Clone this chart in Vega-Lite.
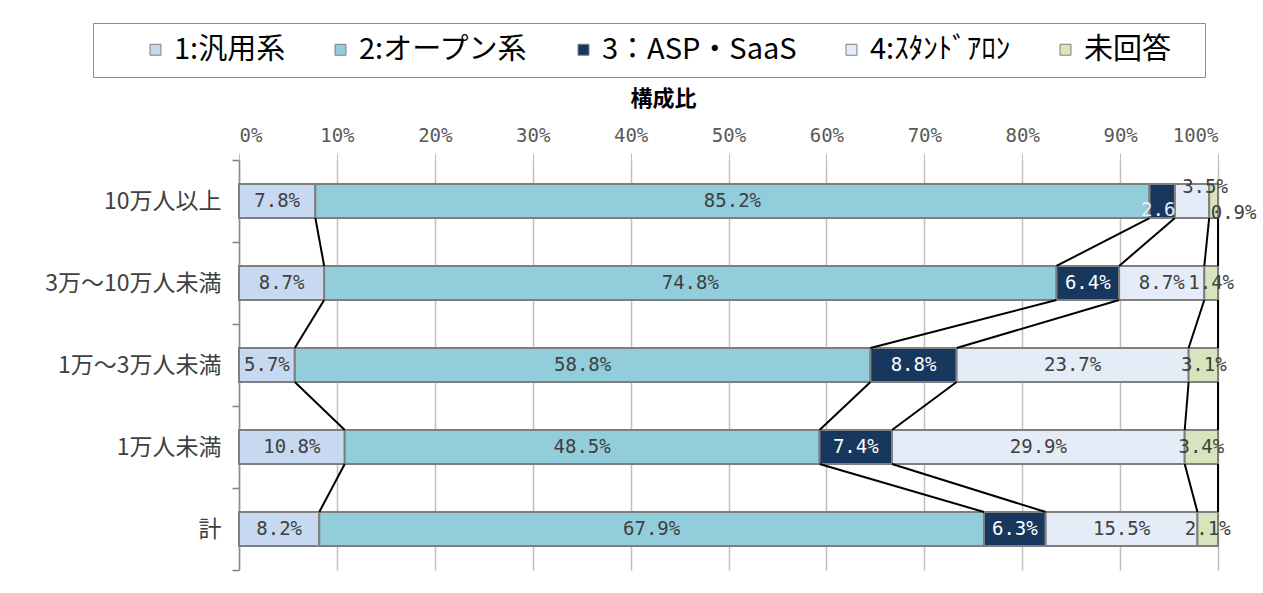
{
  "$schema": "https://vega.github.io/schema/vega-lite/v6.json",
  "autosize": "none",
  "width": 979,
  "height": 410,
  "padding": {"left": 239, "top": 160, "right": 45, "bottom": 23},
  "background": "white",
  "config": {"view": {"stroke": null}},
  "data": {
    "values": [
      {"cat": "10万人以上", "ci": 1, "series": "1:汎用系", "si": 1, "value": 7.8},
      {"cat": "10万人以上", "ci": 1, "series": "2:オープン系", "si": 2, "value": 85.2},
      {"cat": "10万人以上", "ci": 1, "series": "3：ASP・SaaS", "si": 3, "value": 2.6},
      {"cat": "10万人以上", "ci": 1, "series": "4:ｽﾀﾝﾄﾞｱﾛﾝ", "si": 4, "value": 3.5},
      {"cat": "10万人以上", "ci": 1, "series": "未回答", "si": 5, "value": 0.9},
      {"cat": "3万〜10万人未満", "ci": 2, "series": "1:汎用系", "si": 1, "value": 8.7},
      {"cat": "3万〜10万人未満", "ci": 2, "series": "2:オープン系", "si": 2, "value": 74.8},
      {"cat": "3万〜10万人未満", "ci": 2, "series": "3：ASP・SaaS", "si": 3, "value": 6.4},
      {"cat": "3万〜10万人未満", "ci": 2, "series": "4:ｽﾀﾝﾄﾞｱﾛﾝ", "si": 4, "value": 8.7},
      {"cat": "3万〜10万人未満", "ci": 2, "series": "未回答", "si": 5, "value": 1.4},
      {"cat": "1万〜3万人未満", "ci": 3, "series": "1:汎用系", "si": 1, "value": 5.7},
      {"cat": "1万〜3万人未満", "ci": 3, "series": "2:オープン系", "si": 2, "value": 58.8},
      {"cat": "1万〜3万人未満", "ci": 3, "series": "3：ASP・SaaS", "si": 3, "value": 8.8},
      {"cat": "1万〜3万人未満", "ci": 3, "series": "4:ｽﾀﾝﾄﾞｱﾛﾝ", "si": 4, "value": 23.7},
      {"cat": "1万〜3万人未満", "ci": 3, "series": "未回答", "si": 5, "value": 3.1},
      {"cat": "1万人未満", "ci": 4, "series": "1:汎用系", "si": 1, "value": 10.8},
      {"cat": "1万人未満", "ci": 4, "series": "2:オープン系", "si": 2, "value": 48.5},
      {"cat": "1万人未満", "ci": 4, "series": "3：ASP・SaaS", "si": 3, "value": 7.4},
      {"cat": "1万人未満", "ci": 4, "series": "4:ｽﾀﾝﾄﾞｱﾛﾝ", "si": 4, "value": 29.9},
      {"cat": "1万人未満", "ci": 4, "series": "未回答", "si": 5, "value": 3.4},
      {"cat": "計", "ci": 5, "series": "1:汎用系", "si": 1, "value": 8.2},
      {"cat": "計", "ci": 5, "series": "2:オープン系", "si": 2, "value": 67.9},
      {"cat": "計", "ci": 5, "series": "3：ASP・SaaS", "si": 3, "value": 6.3},
      {"cat": "計", "ci": 5, "series": "4:ｽﾀﾝﾄﾞｱﾛﾝ", "si": 4, "value": 15.5},
      {"cat": "計", "ci": 5, "series": "未回答", "si": 5, "value": 2.1}
    ]
  },
  "transform": [
    {"stack": "value", "groupby": ["cat"], "sort": [{"field": "si"}], "as": ["x0", "x1"]},
    {"calculate": "(datum.x0 + datum.x1) / 2", "as": "mid"},
    {"calculate": "format(datum.value, '.1f') + '%'", "as": "label"}
  ],
  "encoding": {
    "y": {
      "field": "cat",
      "type": "nominal",
      "scale": {
        "domain": ["10万人以上", "3万〜10万人未満", "1万〜3万人未満", "1万人未満", "計"],
        "paddingInner": 0,
        "paddingOuter": 0
      },
      "axis": {
        "title": null,
        "orient": "left",
        "domain": true,
        "domainColor": "#8c8c8c",
        "domainWidth": 1.5,
        "ticks": true,
        "tickBand": "extent",
        "tickSize": 7,
        "tickColor": "#7f7f7f",
        "tickWidth": 1.5,
        "labelFont": "Noto Sans CJK JP",
        "labelFontSize": 23,
        "labelColor": "#404040",
        "labelPadding": 11
      }
    }
  },
  "layer": [
    {
      "mark": {"type": "bar", "stroke": "#7f7f7f", "strokeWidth": 2, "height": {"band": 0.415}},
      "encoding": {
        "x": {
          "field": "x0",
          "type": "quantitative",
          "scale": {"domain": [0, 100], "nice": false, "clamp": true},
          "axis": {
            "orient": "top",
            "values": [0, 10, 20, 30, 40, 50, 60, 70, 80, 90, 100],
            "labelExpr": "datum.value + '%'",
            "grid": true,
            "gridColor": "#bfbfbf",
            "gridWidth": 1.5,
            "domain": false,
            "ticks": true,
            "tickSize": 7,
            "tickColor": "#bfbfbf",
            "labelFont": "DejaVu Sans Mono",
            "labelFontSize": 19,
            "labelColor": "#595959",
            "labelPadding": 8,
            "title": "構成比",
            "titleFont": "Noto Sans CJK JP",
            "titleFontSize": 22,
            "titleFontWeight": "bold",
            "titleColor": "#000000",
            "titleX": 424,
            "titleY": -62,
            "titleBaseline": "middle"
          }
        },
        "x2": {"field": "x1"},
        "color": {
          "field": "series",
          "type": "nominal",
          "scale": {
            "domain": ["1:汎用系", "2:オープン系", "3：ASP・SaaS", "4:ｽﾀﾝﾄﾞｱﾛﾝ", "未回答"],
            "range": ["#c6d9f1", "#92cddc", "#17375e", "#e4ecf8", "#d7e4bd"]
          },
          "legend": {
            "title": " ",
            "titleOrient": "left",
            "titlePadding": 36,
            "orient": "none",
            "legendX": -146,
            "legendY": -137,
            "direction": "horizontal",
            "strokeColor": "#8c8c8c",
            "fillColor": "white",
            "padding": 12,
            "columnPadding": 40,
            "labelFont": "Noto Sans CJK JP",
            "labelFontSize": 29,
            "labelColor": "#000000",
            "labelOffset": 4,
            "labelLimit": 400,
            "labelExpr": "datum.label == '未回答' ? datum.label + '\u2800' : datum.label",
            "symbolType": "square",
            "symbolSize": 120,
            "symbolStrokeWidth": 1,
            "symbolStrokeColor": "#7f7f7f"
          }
        }
      }
    },
    {
      "transform": [
        {
          "window": [
            {"op": "lead", "field": "x1", "as": "nx"},
            {"op": "lead", "field": "cat", "as": "ncat"}
          ],
          "groupby": ["si"],
          "sort": [{"field": "ci"}]
        },
        {"filter": "datum.ncat != null"}
      ],
      "mark": {"type": "rule", "color": "#000000", "strokeWidth": 2},
      "encoding": {
        "x": {"field": "x1", "type": "quantitative"},
        "x2": {"field": "nx"},
        "y": {"field": "cat", "type": "nominal", "bandPosition": 0.7075},
        "y2": {"field": "ncat", "bandPosition": 0.2925}
      }
    },
    {
      "transform": [{"filter": "!(datum.ci == 1 && datum.si >= 3)"}],
      "mark": {"type": "text", "font": "DejaVu Sans Mono", "fontSize": 19, "baseline": "middle"},
      "encoding": {
        "x": {"field": "mid", "type": "quantitative"},
        "text": {"field": "label"},
        "color": {"condition": {"test": "datum.si == 3", "value": "#ffffff"}, "value": "#404040"}
      }
    },
    {
      "transform": [
        {"filter": "datum.ci == 1 && datum.si == 3"},
        {"calculate": "format(datum.value, '.1f')", "as": "short"}
      ],
      "mark": {"type": "text", "font": "DejaVu Sans Mono", "fontSize": 19, "baseline": "middle", "dx": -4, "dy": 9, "color": "#e8eef6"},
      "encoding": {
        "x": {"field": "mid", "type": "quantitative"},
        "text": {"field": "short"}
      }
    },
    {
      "transform": [{"filter": "datum.ci == 1 && datum.si == 4"}],
      "mark": {"type": "text", "font": "DejaVu Sans Mono", "fontSize": 19, "baseline": "middle", "dx": 13, "dy": -14, "color": "#404040"},
      "encoding": {
        "x": {"field": "mid", "type": "quantitative"},
        "text": {"field": "label"}
      }
    },
    {
      "transform": [{"filter": "datum.ci == 1 && datum.si == 5"}],
      "mark": {"type": "text", "font": "DejaVu Sans Mono", "fontSize": 19, "baseline": "middle", "dx": 20, "dy": 12, "color": "#404040"},
      "encoding": {
        "x": {"field": "mid", "type": "quantitative"},
        "text": {"field": "label"}
      }
    }
  ]
}
